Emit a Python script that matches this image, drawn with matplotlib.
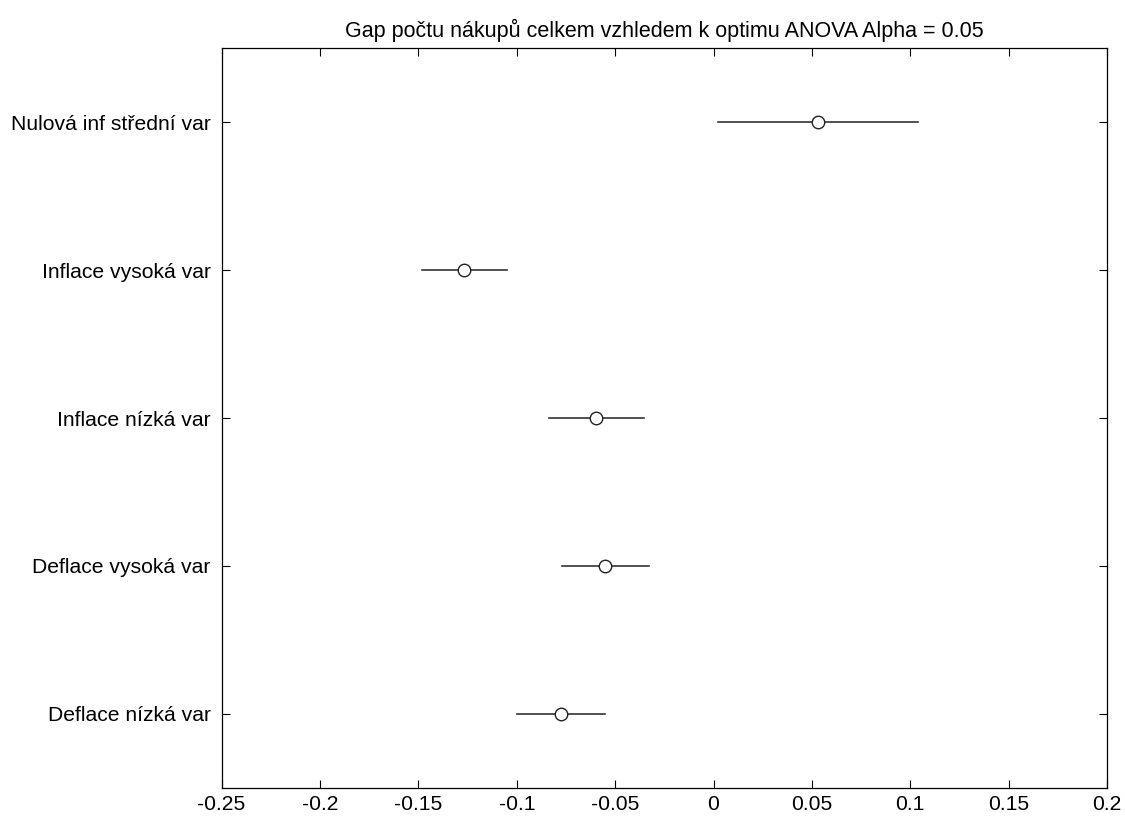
import numpy as np
import matplotlib.pyplot as plt

plt.rcParams['font.family'] = ['Liberation Sans', 'DejaVu Sans']

# groups listed bottom to top
groups = ['Deflace nízká var', 'Deflace vysoká var', 'Inflace nízká var',
          'Inflace vysoká var', 'Nulová inf střední var']
means = [-0.0775, -0.055, -0.0596, -0.1266, 0.0532]
half_width = [0.0226, 0.022, 0.0241, 0.0218, 0.0509]

xticks = [-0.25, -0.2, -0.15, -0.1, -0.05, 0, 0.05, 0.1, 0.15, 0.2]
xticklabels = ['-0.25', '-0.2', '-0.15', '-0.1', '-0.05', '0', '0.05', '0.1', '0.15', '0.2']

fig = plt.figure(figsize=(11.25, 8.16), dpi=100)
ax = fig.add_axes([0.197, 0.0347, 0.787, 0.906])

ypos = np.arange(1, len(groups) + 1)
for y, m, h in zip(ypos, means, half_width):
    ax.plot([m - h, m + h], [y, y], color='#222222', linewidth=1.1)
ax.plot(means, ypos, linestyle='none', marker='o', markersize=9,
        markerfacecolor='white', markeredgecolor='#222222', markeredgewidth=1.0)

ax.set_xlim(-0.25, 0.2)
ax.set_ylim(0.5, 5.5)
ax.set_xticks(xticks)
ax.set_xticklabels(xticklabels)
ax.set_yticks(ypos)
ax.set_yticklabels(groups)
ax.tick_params(direction='in', length=6, width=0.8, top=True, right=True,
               labelsize=15.2)
ax.tick_params(axis='y', pad=8)
ax.tick_params(axis='x', pad=5.5)
for spine in ax.spines.values():
    spine.set_linewidth(0.9)

ax.set_title('Gap počtu nákupů celkem vzhledem k optimu ANOVA Alpha = 0.05',
             fontsize=15.5, pad=8)

fig.savefig('out.png', dpi=100)
